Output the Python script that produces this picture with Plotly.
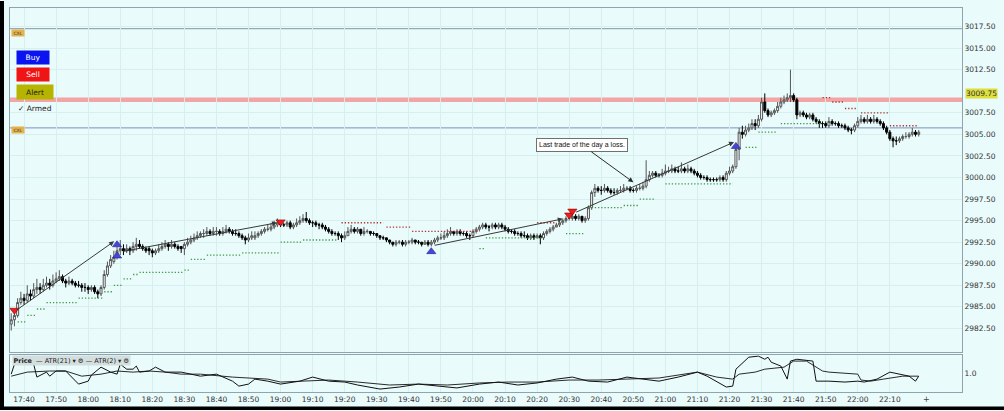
import pandas as pd
import plotly.graph_objects as go

# ---------------- data (1-minute ES bars from 17:36) ----------------
opens = [
 2983.00, 2983.50, 2984.00, 2985.50, 2986.00, 2985.75, 2986.50, 2986.25, 2987.00, 2987.25,
 2987.00, 2987.50, 2987.75, 2987.50, 2988.00, 2988.25, 2988.50, 2988.00, 2987.75, 2988.00,
 2987.75, 2987.50, 2987.50, 2987.25, 2987.25, 2987.00, 2987.25, 2986.75, 2986.50, 2987.25,
 2988.75, 2989.75, 2990.25, 2990.75, 2991.50, 2991.75, 2991.50, 2991.75, 2991.50, 2992.00,
 2992.25, 2992.00, 2991.75, 2991.75, 2991.50, 2991.25, 2991.50, 2991.75, 2992.00, 2992.25,
 2992.00, 2992.25, 2992.00, 2992.00, 2991.75, 2992.25, 2992.50, 2992.75, 2993.00, 2993.25,
 2993.50, 2993.50, 2993.75, 2993.50, 2993.75, 2993.75, 2993.50, 2993.75, 2994.00, 2993.75,
 2993.50, 2993.50, 2993.25, 2993.00, 2992.75, 2993.00, 2993.00, 2993.25, 2993.50, 2993.75,
 2994.00, 2994.00, 2994.25, 2994.50, 2994.75, 2994.50, 2994.50, 2994.75, 2994.25, 2994.50,
 2994.75, 2995.00, 2995.25, 2995.00, 2994.75, 2994.75, 2994.50, 2994.50, 2994.25, 2994.00,
 2993.75, 2993.50, 2993.50, 2993.25, 2993.00, 2993.25, 2993.75, 2994.00, 2993.75, 2994.00,
 2993.50, 2993.75, 2993.75, 2993.50, 2993.50, 2993.25, 2993.00, 2993.00, 2992.75, 2992.50,
 2992.25, 2992.50, 2992.50, 2992.25, 2992.50, 2992.50, 2992.75, 2992.50, 2992.50, 2992.25,
 2992.50, 2992.25, 2992.50, 2992.75, 2993.00, 2993.00, 2993.25, 2993.50, 2993.75, 2993.50,
 2993.75, 2993.50, 2993.50, 2993.25, 2993.25, 2993.75, 2994.00, 2994.25, 2994.50, 2994.25,
 2994.25, 2994.50, 2994.25, 2994.50, 2994.25, 2994.00, 2993.75, 2993.75, 2993.50, 2993.50,
 2993.25, 2993.25, 2993.00, 2993.25, 2993.00, 2993.25, 2993.00, 2993.50, 2993.75, 2994.00,
 2994.25, 2994.50, 2994.75, 2995.00, 2995.25, 2995.25, 2995.50, 2995.25, 2995.50, 2995.00,
 2995.25, 2996.50, 2998.25, 2998.75, 2998.50, 2998.50, 2998.75, 2998.50, 2998.25, 2998.25,
 2998.50, 2998.50, 2998.75, 2998.75, 2998.50, 2998.50, 2998.75, 2998.75, 2999.00, 2999.75,
 3000.25, 3000.50, 3000.25, 3000.25, 3000.50, 3000.75, 3000.75, 3001.00, 3000.75, 3000.75,
 3001.00, 3000.75, 3001.00, 3000.75, 3000.50, 3000.25, 3000.00, 3000.00, 2999.75, 2999.75,
 2999.75, 2999.75, 3000.00, 2999.75, 3000.50, 3000.75, 3001.25, 3003.25, 3005.25, 3005.00,
 3005.50, 3005.75, 3006.25, 3006.00, 3006.75, 3008.75, 3007.75, 3007.25, 3007.50, 3007.75,
 3008.25, 3008.75, 3009.00, 3009.25, 3009.50, 3009.00, 3007.25, 3007.50, 3007.25, 3007.00,
 3007.25, 3006.75, 3006.50, 3006.25, 3006.25, 3006.00, 3006.50, 3006.25, 3006.25, 3006.00,
 3006.00, 3005.75, 3005.50, 3005.50, 3006.00, 3006.50, 3006.75, 3006.50, 3006.75, 3006.50,
 3006.75, 3006.50, 3006.25, 3005.75, 3005.25, 3004.50, 3004.25, 3004.25, 3004.50, 3004.75,
 3004.75, 3005.00, 3005.25, 3005.00]
highs = [
 2984.25, 2984.50, 2986.00, 2986.75, 2986.50, 2987.50, 2987.00, 2987.75, 2988.25, 2987.75,
 2988.25, 2988.50, 2988.25, 2988.75, 2989.00, 2989.25, 2988.75, 2988.25, 2988.50, 2988.25,
 2988.00, 2988.00, 2987.75, 2987.75, 2987.50, 2987.50, 2987.50, 2987.00, 2987.50, 2989.25,
 2990.25, 2991.00, 2991.50, 2992.00, 2992.75, 2992.25, 2992.25, 2992.00, 2992.50, 2993.00,
 2992.75, 2992.25, 2992.00, 2992.00, 2991.75, 2991.75, 2992.25, 2992.50, 2992.75, 2992.50,
 2992.75, 2992.50, 2992.25, 2992.00, 2992.50, 2993.00, 2993.25, 2993.50, 2993.75, 2993.75,
 2994.00, 2994.25, 2994.00, 2994.25, 2994.25, 2994.00, 2994.25, 2994.50, 2994.25, 2994.00,
 2994.00, 2993.75, 2993.50, 2993.25, 2993.50, 2993.75, 2993.75, 2993.75, 2994.00, 2994.25,
 2994.50, 2994.75, 2995.00, 2995.25, 2995.00, 2994.75, 2995.00, 2995.00, 2994.75, 2995.25,
 2995.50, 2995.75, 2996.00, 2995.25, 2995.00, 2995.00, 2994.75, 2994.75, 2994.50, 2994.25,
 2994.00, 2993.75, 2993.75, 2993.50, 2993.75, 2994.25, 2994.50, 2994.25, 2994.25, 2994.00,
 2994.25, 2994.00, 2993.75, 2993.75, 2993.50, 2993.25, 2993.25, 2993.00, 2992.75, 2992.50,
 2992.75, 2992.75, 2992.75, 2992.75, 2992.75, 2993.00, 2992.75, 2992.75, 2992.50, 2992.75,
 2992.75, 2992.75, 2993.00, 2993.25, 2993.50, 2993.75, 2994.00, 2994.25, 2993.75, 2994.00,
 2994.00, 2993.75, 2993.75, 2993.50, 2994.00, 2994.25, 2994.50, 2994.75, 2994.75, 2994.50,
 2994.75, 2994.75, 2994.75, 2994.75, 2994.50, 2994.25, 2994.00, 2994.00, 2993.75, 2993.75,
 2993.75, 2993.50, 2993.50, 2993.50, 2993.50, 2993.50, 2993.75, 2994.00, 2994.25, 2994.50,
 2994.75, 2995.00, 2995.25, 2995.50, 2995.50, 2995.75, 2995.75, 2995.75, 2995.50, 2995.50,
 2996.75, 2998.50, 2999.25, 2999.00, 2999.00, 2999.25, 2999.00, 2998.75, 2998.75, 2998.75,
 2999.00, 2999.25, 2999.00, 2999.00, 2998.75, 2999.00, 2999.25, 2999.50, 3002.00, 3000.75,
 3000.75, 3000.75, 3000.50, 3001.00, 3001.50, 3001.25, 3001.50, 3001.25, 3001.25, 3001.75,
 3001.25, 3001.50, 3001.25, 3001.00, 3000.75, 3000.50, 3000.25, 3000.25, 3000.00, 3000.00,
 3000.00, 3000.25, 3000.25, 3000.75, 3001.25, 3001.50, 3003.75, 3005.75, 3006.00, 3006.00,
 3006.25, 3006.75, 3006.75, 3007.25, 3009.25, 3009.75, 3008.00, 3007.75, 3008.00, 3008.75,
 3009.25, 3009.50, 3009.75, 3012.50, 3009.75, 3009.25, 3007.75, 3007.75, 3007.50, 3007.50,
 3007.50, 3007.00, 3006.75, 3006.50, 3006.50, 3007.00, 3006.75, 3006.50, 3006.50, 3006.25,
 3006.25, 3006.00, 3005.75, 3006.25, 3007.00, 3007.25, 3007.00, 3007.25, 3007.00, 3007.25,
 3007.00, 3006.75, 3006.50, 3006.00, 3005.50, 3004.75, 3004.75, 3004.75, 3005.00, 3005.25,
 3005.25, 3005.75, 3005.50, 3005.50]
lows = [
 2982.25, 2982.75, 2983.75, 2985.25, 2985.25, 2985.50, 2985.75, 2986.00, 2986.50, 2986.50,
 2986.75, 2987.25, 2987.00, 2987.25, 2987.75, 2988.00, 2987.75, 2987.25, 2987.50, 2987.50,
 2987.25, 2987.25, 2986.75, 2986.75, 2986.50, 2986.75, 2986.50, 2986.00, 2986.25, 2987.00,
 2988.50, 2989.50, 2990.00, 2990.50, 2991.00, 2991.00, 2991.25, 2991.00, 2991.25, 2991.50,
 2991.75, 2991.50, 2991.25, 2991.00, 2990.75, 2991.00, 2991.25, 2991.50, 2991.75, 2991.50,
 2991.75, 2991.75, 2991.50, 2991.25, 2991.00, 2992.00, 2992.25, 2992.50, 2992.75, 2993.00,
 2993.00, 2993.25, 2993.25, 2993.25, 2993.25, 2993.25, 2993.25, 2993.50, 2993.50, 2993.25,
 2993.25, 2993.00, 2992.75, 2992.25, 2992.50, 2992.75, 2992.75, 2993.00, 2993.25, 2993.50,
 2993.75, 2993.75, 2994.00, 2994.25, 2994.25, 2994.25, 2994.25, 2994.00, 2994.00, 2994.25,
 2994.50, 2994.75, 2994.75, 2994.50, 2994.25, 2994.25, 2994.00, 2994.00, 2993.75, 2993.50,
 2993.25, 2993.25, 2992.75, 2992.50, 2992.75, 2993.25, 2993.50, 2993.50, 2993.50, 2993.25,
 2993.25, 2993.50, 2993.25, 2993.25, 2993.00, 2992.75, 2992.75, 2992.50, 2992.25, 2992.00,
 2992.00, 2992.25, 2992.00, 2992.00, 2992.25, 2992.25, 2992.25, 2992.25, 2992.00, 2992.25,
 2992.00, 2992.00, 2992.25, 2992.50, 2992.75, 2992.75, 2993.00, 2993.25, 2993.25, 2993.25,
 2993.25, 2993.25, 2993.00, 2992.75, 2993.00, 2993.50, 2993.75, 2994.00, 2994.00, 2993.75,
 2994.00, 2994.00, 2994.00, 2994.00, 2993.75, 2993.50, 2993.50, 2993.25, 2993.25, 2993.00,
 2993.00, 2992.75, 2992.75, 2992.75, 2993.00, 2992.25, 2992.75, 2993.25, 2993.50, 2993.75,
 2994.25, 2994.25, 2994.50, 2994.75, 2995.00, 2995.00, 2995.00, 2995.00, 2994.75, 2994.75,
 2995.00, 2996.25, 2997.75, 2998.25, 2998.00, 2998.25, 2998.25, 2998.00, 2998.00, 2998.00,
 2998.25, 2998.25, 2998.50, 2998.25, 2998.25, 2998.25, 2998.50, 2998.50, 2998.75, 2999.50,
 3000.00, 3000.00, 3000.00, 3000.00, 3000.25, 3000.50, 3000.50, 3000.50, 3000.50, 3000.50,
 3000.50, 3000.50, 3000.50, 3000.25, 3000.00, 2999.75, 2999.75, 2999.50, 2999.50, 2999.50,
 2999.50, 2999.50, 2999.50, 2999.50, 3000.25, 3000.50, 3001.00, 3002.00, 3004.50, 3004.75,
 3005.25, 3005.50, 3005.50, 3005.75, 3006.50, 3007.50, 3007.00, 3007.00, 3007.25, 3007.50,
 3008.00, 3008.50, 3008.75, 3008.75, 3008.75, 3006.75, 3007.00, 3007.00, 3006.75, 3006.75,
 3006.50, 3006.25, 3005.75, 3005.75, 3005.75, 3005.75, 3006.00, 3006.00, 3005.75, 3005.75,
 3005.50, 3005.25, 3005.00, 3005.25, 3005.75, 3006.25, 3006.25, 3006.25, 3006.25, 3006.25,
 3006.25, 3006.00, 3005.50, 3005.00, 3004.25, 3003.50, 3003.75, 3004.00, 3004.25, 3004.50,
 3004.50, 3004.75, 3004.75, 3004.75]
closes = [
 2983.50, 2984.00, 2985.50, 2986.00, 2985.75, 2986.50, 2986.25, 2987.00, 2987.25, 2987.00,
 2987.50, 2987.75, 2987.50, 2988.00, 2988.25, 2988.50, 2988.00, 2987.75, 2988.00, 2987.75,
 2987.50, 2987.50, 2987.25, 2987.25, 2987.00, 2987.25, 2986.75, 2986.50, 2987.25, 2988.75,
 2989.75, 2990.50, 2990.75, 2991.50, 2991.75, 2991.50, 2991.75, 2991.50, 2992.00, 2992.25,
 2992.00, 2991.75, 2991.50, 2991.50, 2991.25, 2991.50, 2991.75, 2992.00, 2992.25, 2992.00,
 2992.25, 2992.00, 2991.75, 2991.75, 2992.25, 2992.50, 2992.75, 2993.00, 2993.25, 2993.50,
 2993.50, 2993.75, 2993.50, 2993.75, 2993.75, 2993.50, 2993.75, 2994.00, 2993.75, 2993.50,
 2993.50, 2993.25, 2993.00, 2992.75, 2993.00, 2993.25, 2993.25, 2993.50, 2993.75, 2994.00,
 2994.00, 2994.25, 2994.50, 2994.75, 2994.50, 2994.50, 2994.75, 2994.25, 2994.50, 2994.75,
 2995.00, 2995.25, 2995.00, 2994.75, 2994.75, 2994.50, 2994.50, 2994.25, 2994.00, 2993.75,
 2993.50, 2993.50, 2993.25, 2993.00, 2993.25, 2993.75, 2994.00, 2993.75, 2994.00, 2993.50,
 2993.75, 2993.75, 2993.50, 2993.50, 2993.25, 2993.00, 2993.00, 2992.75, 2992.50, 2992.25,
 2992.50, 2992.50, 2992.25, 2992.50, 2992.50, 2992.75, 2992.50, 2992.50, 2992.25, 2992.50,
 2992.25, 2992.50, 2992.75, 2993.00, 2993.00, 2993.25, 2993.50, 2993.75, 2993.50, 2993.75,
 2993.50, 2993.50, 2993.25, 2993.25, 2993.75, 2994.00, 2994.25, 2994.50, 2994.25, 2994.25,
 2994.50, 2994.25, 2994.50, 2994.25, 2994.00, 2993.75, 2993.75, 2993.50, 2993.50, 2993.25,
 2993.25, 2993.00, 2993.25, 2993.00, 2993.25, 2993.00, 2993.50, 2993.75, 2994.00, 2994.25,
 2994.50, 2994.75, 2995.00, 2995.25, 2995.25, 2995.50, 2995.25, 2995.50, 2995.00, 2995.25,
 2996.50, 2998.25, 2998.75, 2998.50, 2998.50, 2998.75, 2998.50, 2998.25, 2998.25, 2998.50,
 2998.50, 2998.75, 2998.75, 2998.50, 2998.50, 2998.75, 2998.75, 2999.00, 2999.75, 3000.25,
 3000.50, 3000.25, 3000.25, 3000.50, 3000.75, 3000.75, 3001.00, 3000.75, 3000.75, 3001.00,
 3000.75, 3001.00, 3000.75, 3000.50, 3000.25, 3000.00, 3000.00, 2999.75, 2999.75, 2999.75,
 2999.75, 3000.00, 2999.75, 3000.50, 3000.75, 3001.25, 3003.25, 3005.25, 3005.00, 3005.50,
 3005.75, 3006.25, 3006.00, 3006.75, 3008.75, 3007.75, 3007.25, 3007.50, 3007.75, 3008.25,
 3008.75, 3009.00, 3009.25, 3009.50, 3009.00, 3007.25, 3007.50, 3007.25, 3007.00, 3007.25,
 3006.75, 3006.50, 3006.25, 3006.25, 3006.00, 3006.50, 3006.25, 3006.25, 3006.00, 3006.00,
 3005.75, 3005.50, 3005.50, 3006.00, 3006.50, 3006.75, 3006.50, 3006.75, 3006.50, 3006.75,
 3006.50, 3006.25, 3005.75, 3005.25, 3004.50, 3004.25, 3004.25, 3004.50, 3004.75, 3004.75,
 3005.00, 3005.25, 3005.00, 3005.25]

# trailing-stop dotted segments (bar index start, end, price)
long_stop_start = [2, 5, 8, 11, 21, 29, 32, 35, 38, 40, 54, 56, 61, 72, 84, 91, 146, 148, 173, 180, 191, 196, 204, 229, 233, 240]
long_stop_end   = [5, 8, 11, 21, 29, 32, 35, 38, 40, 54, 56, 61, 72, 84, 91, 102, 148, 166, 179, 191, 196, 201, 225, 233, 239, 253]
long_stop_level = [2983.25, 2984.0, 2984.75, 2985.5, 2986.0, 2986.75, 2987.5, 2988.25, 2988.75, 2989.0,
                   2989.25, 2990.5, 2991.0, 2991.25, 2992.5, 2992.75, 2991.75, 2993.0, 2993.5, 2996.5,
                   2996.75, 2997.5, 2999.25, 3003.5, 3005.25, 3006.25]
short_stop_start = [103, 117, 125, 164, 253, 256, 260, 265, 274]
short_stop_end   = [116, 125, 146, 170, 256, 260, 264, 274, 283]
short_stop_level = [2994.75, 2994.25, 2993.75, 2994.75, 3009.25, 3008.75, 3008.0, 3007.5, 3006.0]

# signals
sell_idx = [1, 84, 174, 175]
sell_px = [2984.6, 2994.85, 2995.65, 2996.1]
buy_idx = [33, 33, 131, 226]
buy_px = [2990.9, 2992.2, 2991.4, 3003.6]

# trade arrows (bar index, price) tail -> head
arrow_i0 = [1.2, 34.5, 131.6, 175.7]
arrow_p0 = [2984.5, 2991.4, 2992.1, 2995.9]
arrow_i1 = [32.1, 82.9, 172.0, 225.4]
arrow_p1 = [2992.6, 2994.75, 2995.2, 3004.1]

# horizontal order / alert levels
cxl_top = 3017.25
cxl_mid = 3005.75
alert_level = 3009.0
alert_label = 3009.75

# ATR indicator pane
atr2_t = [0, 1, 7, 8, 11, 12, 14, 17, 21, 24, 25, 28, 31, 33, 34, 36, 38, 39, 40, 43,
          45, 48, 53, 59, 64, 69, 71, 74, 76, 80, 84, 90, 94, 99, 104, 108, 115, 121, 127, 133,
          139, 146, 152, 158, 164, 170, 175, 180, 186, 192, 197, 202, 208, 214, 217, 223, 225, 226, 230, 233,
          235, 236, 237, 240, 242, 243, 245, 250, 251, 255, 260, 264, 266, 270, 274, 277, 280, 282, 283]
atr2_v = [0.97, 1.51, 1.51, 0.81, 1.08, 0.86, 1.14, 1.14, 0.43, 0.59, 0.92, 1.35, 1.08, 0.97, 1.51, 1.24, 1.24, 1.41, 1.08, 1.14,
          1.35, 1.08, 1.08, 0.86, 0.97, 0.59, 0.32, 0.43, 0.70, 0.59, 0.43, 0.59, 0.81, 0.59, 0.54, 0.38, 0.16, 0.27, 0.43, 0.32,
          0.22, 0.43, 0.54, 0.38, 0.49, 0.70, 0.81, 0.59, 0.54, 0.81, 0.70, 0.59, 0.81, 1.08, 0.86, 0.27, 0.32, 1.24, 1.89, 1.95,
          1.78, 1.89, 1.62, 1.41, 0.70, 1.68, 1.78, 1.68, 0.59, 0.59, 0.54, 0.59, 0.54, 0.70, 1.08, 0.97, 0.86, 0.59, 0.86]
atr21_t = [0, 5, 12, 17, 22, 28, 33, 38, 43, 48, 53, 59, 69, 80, 84, 90, 99, 108, 118, 127,
           136, 146, 155, 164, 174, 183, 192, 202, 214, 220, 225, 227, 232, 235, 241, 244, 248, 251, 253, 255,
           264, 265, 268, 272, 278, 283]
atr21_v = [0.86, 1.08, 1.14, 1.14, 0.86, 0.97, 1.14, 1.08, 1.14, 1.08, 0.97, 0.97, 0.81, 0.70, 0.54, 0.59, 0.65, 0.54, 0.38, 0.43,
           0.38, 0.49, 0.54, 0.54, 0.65, 0.65, 0.70, 0.76, 1.08, 0.81, 0.70, 0.97, 1.08, 1.24, 1.35, 1.68, 1.68, 1.35, 1.14, 1.08,
           0.97, 0.65, 0.59, 0.70, 0.86, 0.86]

tick_labels = ["17:40", "17:50", "18:00", "18:10", "18:20", "18:30", "18:40", "18:50", "19:00", "19:10",
               "19:20", "19:30", "19:40", "19:50", "20:00", "20:10", "20:20", "20:30", "20:40", "20:50",
               "21:00", "21:10", "21:20", "21:30", "21:40", "21:50", "22:00", "22:10"]
price_ticks = [2982.5, 2985.0, 2987.5, 2990.0, 2992.5, 2995.0, 2997.5, 3000.0, 3002.5,
               3005.0, 3007.5, 3012.5, 3015.0, 3017.5]

# ---------------- helpers ----------------
DAY = "2019-06-03"
BASE = pd.Timestamp(DAY + " 17:36:00")


def t(i):
    return (BASE + pd.Timedelta(minutes=float(i))).strftime("%Y-%m-%d %H:%M:%S")


times = [t(i) for i in range(len(closes))]
tick_times = [DAY + " " + s + ":00" for s in tick_labels]

W, H = 1004, 411
ML, MR, MT, MB = 10, 42, 7, 18
PW, PH = W - ML - MR, H - MT - MB


def px(x):
    return (x - ML) / PW


def py(y):
    return (H - MB - y) / PH


BG = "#e9fbfb"
GRID = "#d6efef"
AXC = "#8ea5ad"
FONT = "DejaVu Sans"

fig = go.Figure()

fig.add_trace(go.Candlestick(
    x=times, open=opens, high=highs, low=lows, close=closes,
    increasing=dict(fillcolor="#fbfbfb", line=dict(color="#555555", width=1)),
    decreasing=dict(fillcolor="#000000", line=dict(color="#000000", width=1)),
    whiskerwidth=0, showlegend=False, hoverinfo="skip", xaxis="x", yaxis="y"))


def seg_trace(starts, ends, levels, color):
    xs, ys = [], []
    for s, e, lv in zip(starts, ends, levels):
        xs += [t(s), t(e), None]
        ys += [lv, lv, None]
    return go.Scatter(x=xs, y=ys, mode="lines", xaxis="x", yaxis="y",
                      line=dict(color=color, width=1.3, dash="1.3px,1.9px"),
                      showlegend=False, hoverinfo="skip")


fig.add_trace(seg_trace(long_stop_start, long_stop_end, long_stop_level, "#3f9a47"))
fig.add_trace(seg_trace(short_stop_start, short_stop_end, short_stop_level, "#b03434"))

fig.add_trace(go.Scatter(
    x=[t(i) for i in sell_idx], y=sell_px, mode="markers", xaxis="x", yaxis="y",
    marker=dict(symbol="triangle-down", size=8, color="#ee1c1c", line=dict(color="#900000", width=0.6)),
    showlegend=False, hoverinfo="skip"))
fig.add_trace(go.Scatter(
    x=[t(i) for i in buy_idx], y=buy_px, mode="markers", xaxis="x", yaxis="y",
    marker=dict(symbol="triangle-up", size=8, color="#4646dc", line=dict(color="#20208a", width=0.6)),
    showlegend=False, hoverinfo="skip"))

fig.add_trace(go.Scatter(
    x=[t(i) for i in atr21_t], y=atr21_v, mode="lines", xaxis="x2", yaxis="y2",
    line=dict(color="#2a2a2a", width=1), showlegend=False, hoverinfo="skip"))
fig.add_trace(go.Scatter(
    x=[t(i) for i in atr2_t], y=atr2_v, mode="lines", xaxis="x2", yaxis="y2",
    line=dict(color="#111111", width=1), showlegend=False, hoverinfo="skip"))

shapes = [
    dict(type="line", xref="paper", yref="y", x0=0, x1=1, y0=alert_level, y1=alert_level,
         line=dict(color="#f3a4a4", width=4.5), layer="below"),
    dict(type="line", xref="paper", yref="y", x0=0, x1=1, y0=cxl_top, y1=cxl_top,
         line=dict(color="#7e97a8", width=1), layer="below"),
    dict(type="line", xref="paper", yref="y", x0=0, x1=1, y0=cxl_mid, y1=cxl_mid,
         line=dict(color="#7a93bf", width=1), layer="below"),
    dict(type="rect", xref="paper", yref="paper", x0=px(0), x1=px(4), y0=py(411), y1=py(0),
         fillcolor="#000000", line=dict(width=0), layer="above"),
    dict(type="rect", xref="paper", yref="paper", x0=px(0), x1=px(1004), y0=py(411), y1=py(407.5),
         fillcolor="#000000", line=dict(width=0), layer="above"),
]

ann = []
for a0, b0, a1, b1 in zip(arrow_i0, arrow_p0, arrow_i1, arrow_p1):
    ann.append(dict(x=t(a1), y=b1, ax=t(a0), ay=b0, xref="x", yref="y", axref="x", ayref="y",
                    text="", showarrow=True, arrowhead=2, arrowsize=1, arrowwidth=1, arrowcolor="#3a3a3a"))

ann.append(dict(x=t(194), y=2999.45, xref="x", yref="y", ax=-51, ay=-37,
                text="Last trade of the day a loss.", showarrow=True, arrowhead=2, arrowsize=1,
                arrowwidth=1, arrowcolor="#2a2a2a", font=dict(family="Liberation Sans", size=7, color="#111"),
                bgcolor="#ffffff", bordercolor="#707070", borderwidth=1, borderpad=2))

# order tool buttons
C = dict(xref="paper", yref="paper", showarrow=False, xanchor="center", yanchor="middle")
ann.append(dict(x=px(33), y=py(56.5), text="Buy",
                font=dict(family=FONT, size=7.5, color="#ffffff"), bgcolor="#0a14f0",
                width=30, height=11, borderpad=1, **C))
ann.append(dict(x=px(33), y=py(74), text="Sell",
                font=dict(family=FONT, size=7.5, color="#ffffff"), bgcolor="#f01414",
                width=30, height=11, borderpad=1, **C))
ann.append(dict(x=px(35), y=py(91.5), text="Alert",
                font=dict(family=FONT, size=7.5, color="#202020"), bgcolor="#b7b400",
                width=34, height=12, borderpad=1, **C))
ann.append(dict(x=px(16), y=py(108), xref="paper", yref="paper", xanchor="left", yanchor="middle",
                text="✓ Armed", showarrow=False, font=dict(family=FONT, size=7.5, color="#222")))
for lvl_y in (32.5, 130):
    ann.append(dict(x=px(18), y=py(lvl_y), text="CXL",
                    font=dict(family=FONT, size=4.5, color="#333"), bgcolor="#e6b24c",
                    width=11, height=5, borderpad=0.5, **C))

ann.append(dict(x=1, y=alert_label, xref="paper", yref="y", xanchor="left", yanchor="middle", xshift=3,
                text="3009.75", showarrow=False, font=dict(family=FONT, size=7.5, color="#333"),
                bgcolor="#dede3c", borderpad=0))

ann.append(dict(x=px(12), y=py(361.5), xref="paper", yref="paper", xanchor="left", yanchor="middle",
                text="<b>Price</b>  — ATR(21) ▾ ⚙ — ATR(2) ▾ ⚙", showarrow=False,
                font=dict(family=FONT, size=6.5, color="#222"), bgcolor="#d3dede", borderpad=0.5))

ann.append(dict(x=t(285.5), y=py(401), xref="x2", yref="paper", xanchor="center", yanchor="middle",
                text="+", showarrow=False, font=dict(family=FONT, size=8, color="#444")))

fig.update_layout(
    width=W, height=H, margin=dict(l=ML, r=MR, t=MT, b=MB),
    paper_bgcolor=BG, plot_bgcolor=BG, showlegend=False, boxgap=0.12,
    font=dict(family=FONT, size=7.5, color="#333"),
    shapes=shapes, annotations=ann,
    xaxis=dict(domain=[0, 1], anchor="y", type="date", range=[t(-0.37), t(296.5)],
               tickvals=tick_times, showticklabels=False, ticks="",
               showgrid=True, gridcolor=GRID, gridwidth=1, zeroline=False,
               showline=True, mirror=True, linecolor=AXC, linewidth=1,
               rangeslider=dict(visible=False)),
    yaxis=dict(domain=[py(353), 1], anchor="x", side="right", range=[2979.74, 3019.65],
               tickvals=price_ticks, ticktext=["%.2f" % v for v in price_ticks], ticks="",
               showgrid=True, gridcolor=GRID, gridwidth=1, zeroline=False,
               showline=True, mirror=True, linecolor=AXC, linewidth=1,
               tickfont=dict(family=FONT, size=7.5, color="#333")),
    xaxis2=dict(domain=[0, 1], anchor="y2", type="date", matches="x",
                tickvals=tick_times, ticktext=tick_labels, ticks="",
                showgrid=True, gridcolor=GRID, gridwidth=1, zeroline=False,
                showline=True, mirror=True, linecolor=AXC, linewidth=1,
                tickfont=dict(family=FONT, size=7.5, color="#333")),
    yaxis2=dict(domain=[0, py(356)], anchor="x2", side="right", range=[0, 2.0],
                tickvals=[1.0], ticktext=["1.0"], ticks="", showgrid=False, zeroline=False,
                showline=True, mirror=True, linecolor=AXC, linewidth=1,
                tickfont=dict(family=FONT, size=7.5, color="#333")),
)

fig.write_html("out.html", config={"displayModeBar": False},
               post_script="document.body.style.margin='0';document.body.style.overflow='hidden';")
